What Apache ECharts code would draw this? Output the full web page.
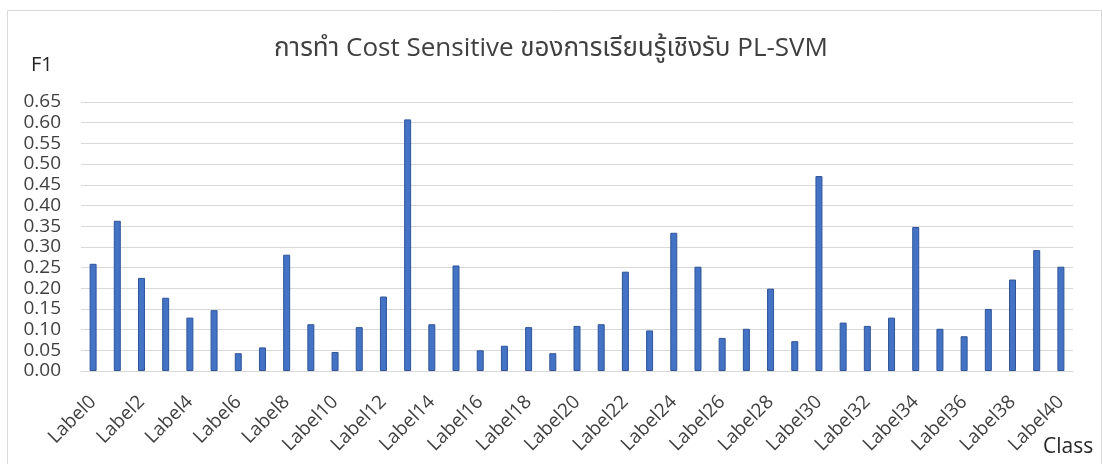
<!DOCTYPE html>
<html>
<head>
<meta charset="utf-8">
<script src="https://cdn.jsdelivr.net/npm/echarts@6/dist/echarts.min.js"></script>
<style>
  html, body { margin: 0; padding: 0; background: #fff; }
  #chart { width: 1102px; height: 464px; }
</style>
</head>
<body>
<div id="chart"></div>
<script>
// Class labels along the x axis
const classes = [];
for (let i = 0; i <= 40; i++) classes.push('Label' + i);

// F1 score per class
const f1Scores = [
  0.259, 0.363, 0.225, 0.177, 0.129, 0.147, 0.043, 0.057, 0.281, 0.113,
  0.046, 0.106, 0.180, 0.608, 0.113, 0.255, 0.050, 0.061, 0.106, 0.043,
  0.109, 0.113, 0.240, 0.098, 0.334, 0.252, 0.080, 0.102, 0.199, 0.072,
  0.471, 0.117, 0.109, 0.129, 0.348, 0.102, 0.084, 0.150, 0.221, 0.292,
  0.252
];

const titleText = 'การทำ Cost Sensitive ของการเรียนรู้เชิงรับ PL-SVM';
const yName = 'F1';
const xName = 'Class';

const font = '"Open Sans", "Noto Sans", "Noto Sans Thai", Tahoma, sans-serif';

const chart = echarts.init(document.getElementById('chart'));
chart.setOption({
  animation: false,
  backgroundColor: '#fff',
  title: {
    text: titleText,
    left: 'center',
    top: 31,
    textStyle: { fontFamily: font, fontSize: 26, fontWeight: 'normal', color: '#404040' }
  },
  graphic: [
    { type: 'rect', shape: { x: 7.5, y: 10.5, width: 1094, height: 470 },
      style: { fill: 'none', stroke: '#d9d9d9', lineWidth: 1 }, silent: true },
    { type: 'text', left: 31, top: 55,
      style: { text: yName, fontFamily: font, fontSize: 20, fill: '#262626' } },
    { type: 'text', left: 1043, top: 437,
      style: { text: xName, fontFamily: font, fontSize: 21, fill: '#262626' } }
  ],
  grid: { left: 81, right: 29, top: 102, bottom: 93 },
  xAxis: {
    type: 'category',
    data: classes,
    axisLine: { lineStyle: { color: '#d9d9d9' } },
    axisTick: { show: false },
    axisLabel: {
      interval: 1,
      rotate: 45,
      margin: 28,
      fontFamily: font,
      fontSize: 19,
      color: '#404040'
    }
  },
  yAxis: {
    type: 'value',
    min: 0,
    max: 0.65,
    interval: 0.05,
    axisLine: { show: false },
    axisTick: { show: false },
    splitLine: { lineStyle: { color: '#d9d9d9', width: 1 } },
    axisLabel: {
      margin: 20,
      fontFamily: font,
      fontSize: 19,
      color: '#404040',
      formatter: v => v.toFixed(2)
    }
  },
  series: [{
    type: 'bar',
    data: f1Scores,
    barWidth: 7,
    itemStyle: { color: '#4472C4', borderColor: '#2F5597', borderWidth: 1 }
  }]
});
</script>
</body>
</html>
